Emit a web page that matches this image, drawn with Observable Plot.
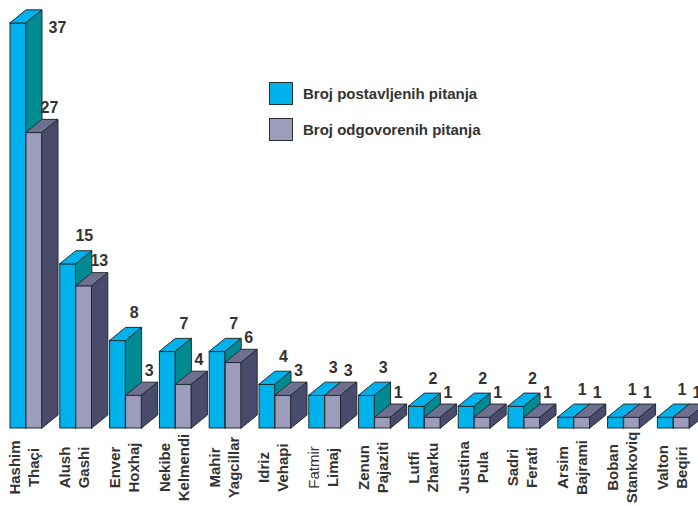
<!DOCTYPE html>
<html><head><meta charset="utf-8">
<script src="https://cdn.jsdelivr.net/npm/d3@7"></script>
<script src="https://cdn.jsdelivr.net/npm/@observablehq/plot@0.6"></script>
<style>
body{margin:0;background:#fff;}
#wrap{position:relative;width:698px;height:506px;overflow:hidden;font-family:"Liberation Sans",Arial,sans-serif;}
.leg{position:absolute;display:flex;align-items:center;font-weight:bold;font-size:15px;color:#333;white-space:nowrap;}
.sw{width:24px;height:23px;border:1px solid #263236;margin-right:10px;box-sizing:border-box;}
</style></head><body><div id="wrap"></div>
<script>
const firstNames = ["Hashim","Alush","Enver","Nekibe","Mahir","Idriz","Fatmir","Zenun","Lutfi","Justina","Sadri","Arsim","Boban","Valton"];
const lastNames = ["Thaçi","Gashi","Hoxhaj","Kelmendi","Yagcillar","Vehapi","Limaj","Pajaziti","Zharku","Pula","Ferati","Bajrami","Stankoviq","Beqiri"];
const asked = [37,15,8,7,7,4,3,3,2,2,2,1,1,1];
const answered = [27,13,3,4,6,3,3,1,1,1,1,1,1,1];
const seriesNames = ["Broj postavljenih pitanja","Broj odgovorenih pitanja"];

// geometry (in scale units): one category = 1 x-unit
const W = 16/49.8, DX = 16/49.8, DY = 13/10.95;
const STROKE = "#1f2d33";
const palettes = [
  {front:"#00B2EC", top:"#00B2EC", side:"#008A92"},
  {front:"#9D9CBA", top:"#6F6F8F", side:"#4A4A6A"}
];

const series = [asked, answered].map((vals, s) => ({
  s, name: seriesNames[s], pal: palettes[s],
  bars: vals.map((v, i) => ({i, v, x0: i + s*W, x1: i + (s+1)*W}))
}));

const marks = [];
for (const ser of series) {
  const {bars, pal} = ser;
  marks.push(Plot.rect(bars, {x1:"x0", x2:"x1", y1:0, y2:"v", fill:pal.front, stroke:STROKE, strokeWidth:1}));
  const top = bars.flatMap(b => [{id:b.i, y:b.v, xa:b.x0, xb:b.x1}, {id:b.i, y:b.v+DY, xa:b.x0+DX, xb:b.x1+DX}]);
  marks.push(Plot.areaX(top, {y:"y", x1:"xa", x2:"xb", z:"id", fill:pal.top, stroke:STROKE, strokeWidth:1}));
  const side = bars.flatMap(b => [{id:b.i, x:b.x1, ya:0, yb:b.v}, {id:b.i, x:b.x1+DX, ya:DY, yb:b.v+DY}]);
  marks.push(Plot.areaY(side, {x:"x", y1:"ya", y2:"yb", z:"id", fill:pal.side, stroke:STROKE, strokeWidth:1}));
}

// value labels
const maxV = d3.max(asked);
const lab = {fontSize:16, fontWeight:"bold", fill:"#333", text: d => String(d.v), y:"v"};
marks.push(Plot.text(series[0].bars.filter(d => d.v < maxV), {...lab, x: d => d.x0 + W/2, dx:16, dy:-28}));
marks.push(Plot.text(series[0].bars.filter(d => d.v >= maxV), {...lab, x: d => d.x0 + W/2, dx:39, dy:5}));
marks.push(Plot.text(series[1].bars, {...lab, x: d => d.x0 + W/2, dx:15, dy:-25}));

// category labels
const cats = firstNames.map((f, i) => ({i, first: f, last: lastNames[i]}));
const catOpt = {x:"i", y:0, rotate:-90, textAnchor:"middle", lineAnchor:"middle", fontSize:15, fill:"#333", dy:39, ariaLabel:"catlabel"};
marks.push(Plot.text(cats.filter(d => d.first !== "Fatmir"), {...catOpt, text:"first", dx:5, fontWeight:"bold"}));
marks.push(Plot.text(cats.filter(d => d.first === "Fatmir"), {...catOpt, text:"first", dx:5, fontWeight:"normal"}));
marks.push(Plot.text(cats, {...catOpt, text:"last", dx:24, fontWeight:"bold"}));

const chart = Plot.plot({
  width: 698, height: 506, margin: 0,
  style: {fontFamily: "'Liberation Sans', Arial, sans-serif", background: "white", overflow: "hidden"},
  x: {type:"linear", domain:[0,1], range:[10,59.8], axis:null},
  y: {type:"linear", domain:[0,1], range:[428, 428-10.95], axis:null},
  marks
});
d3.select(chart).selectAll('g[aria-label="catlabel"] text').style("letter-spacing", "0.9px");

const wrap = document.getElementById("wrap");
wrap.appendChild(chart);
chart.style.position = "absolute"; chart.style.left = "0"; chart.style.top = "0";

// legend
const legTops = [82, 118];
seriesNames.forEach((n, s) => {
  const el = document.createElement("div");
  el.className = "leg";
  el.style.left = "269px"; el.style.top = legTops[s] + "px";
  el.innerHTML = `<div class="sw" style="background:${palettes[s].front}"></div><span>${n}</span>`;
  wrap.appendChild(el);
});
</script></body></html>
